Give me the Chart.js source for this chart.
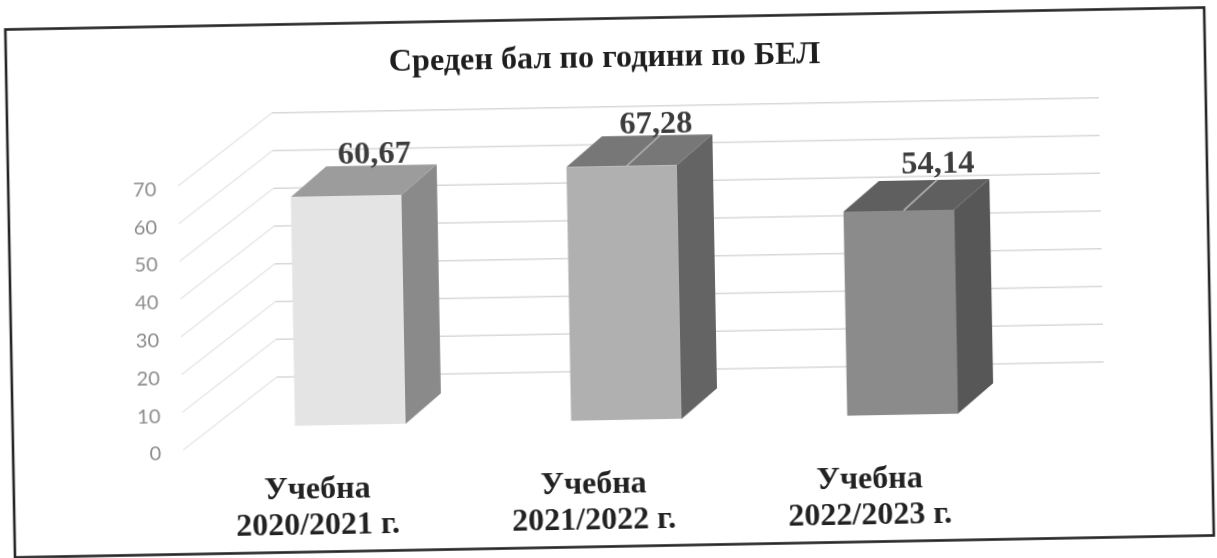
<!DOCTYPE html>
<html lang="bg">
<head>
<meta charset="utf-8">
<title>Среден бал по години по БЕЛ</title>
<script src="https://cdn.jsdelivr.net/npm/chart.js@4"></script>
<style>
html,body{margin:0;padding:0;background:#fff;overflow:hidden;width:1217px;height:558px}
#wrap{width:1217px;height:558px;transform:rotate(-1.05deg);transform-origin:608.5px 279px;filter:blur(0.45px)}
canvas{display:block}
</style>
</head>
<body>
<div id="wrap"><canvas id="c" width="1217" height="558"></canvas></div>
<script>
const titleText = "Среден бал по години по БЕЛ";
const categories = [["Учебна","2020/2021 г."],["Учебна","2021/2022 г."],["Учебна","2022/2023 г."]];
const values = [60.67, 67.28, 54.14];
const valueLabels = ["60,67","67,28","54,14"];
const yTicks = [0,10,20,30,40,50,60,70];
const frontColors = ["#e4e4e4","#b0b0b0","#8b8b8b"];
const sideColors = ["#8a8a8a","#646464","#575757"];
const topColors = ["#9c9c9c","#777777","#5f5f5f"];
const leaderShown = [false,true,true];
const labelShift = [[29,-41],[35,-41],[40,-45]];

const depth = {dx:36, dy:-30};
const wall = {backDy:-49.3, frontDy:22, frontX:180, backX:275, rightX:1102};

const threeD = {
  id:'threeD',
  beforeDraw(chart){
    const c = chart.ctx;
    c.save();
    c.fillStyle='#fff';
    c.fillRect(0,0,chart.width,chart.height);
    c.strokeStyle='#262626';
    c.lineWidth=2.6;
    c.strokeRect(10,18.5,1199,528);
    c.restore();
  },
  beforeDatasetsDraw(chart){
    const c = chart.ctx, y = chart.scales.y;
    c.save();
    c.lineWidth=1.4;
    yTicks.forEach(v=>{
      const p = y.getPixelForValue(v);
      c.strokeStyle='#d8d8d8';
      c.beginPath();
      c.moveTo(wall.backX,p+wall.backDy);
      c.lineTo(wall.rightX,p+wall.backDy);
      c.stroke();
      c.strokeStyle='#e6e6e6';
      c.beginPath();
      c.moveTo(wall.frontX,p+wall.frontDy);
      c.lineTo(wall.backX,p+wall.backDy);
      c.stroke();
    });
    chart.getDatasetMeta(0).data.forEach((b,i)=>{
      const l=b.x-b.width/2, r=b.x+b.width/2, t=b.y, bot=b.base;
      c.fillStyle=sideColors[i];
      c.beginPath();
      c.moveTo(r,t);c.lineTo(r+depth.dx,t+depth.dy);c.lineTo(r+depth.dx,bot+depth.dy);c.lineTo(r,bot);
      c.closePath();c.fill();
      c.fillStyle=topColors[i];
      c.beginPath();
      c.moveTo(l,t);c.lineTo(l+depth.dx,t+depth.dy);c.lineTo(r+depth.dx,t+depth.dy);c.lineTo(r,t);
      c.closePath();c.fill();
    });
    c.restore();
  },
  afterDatasetsDraw(chart){
    const c = chart.ctx;
    c.save();
    c.textAlign='center';
    c.textBaseline='middle';
    c.font='bold 32.5px "Liberation Serif"';
    chart.getDatasetMeta(0).data.forEach((b,i)=>{
      const [sx,sy]=labelShift[i];
      if(leaderShown[i]){
        c.strokeStyle='#b5b5b5';
        c.lineWidth=1.5;
        c.beginPath();
        c.moveTo(b.x+5,b.y);
        c.lineTo(b.x+depth.dx+3,b.y+depth.dy);
        c.stroke();
      }
      c.fillStyle='#3d3d3d';
      c.fillText(valueLabels[i],b.x+sx,b.y+sy);
    });
    c.restore();
  }
};

new Chart(document.getElementById('c'),{
  type:'bar',
  data:{labels:categories,datasets:[{data:values,backgroundColor:frontColors,borderWidth:0,categoryPercentage:1,barPercentage:0.4}]},
  plugins:[threeD],
  options:{
    responsive:false,
    animation:false,
    layout:{padding:0},
    plugins:{
      legend:{display:false},
      tooltip:{enabled:false},
      title:{display:true,text:titleText,color:'#1e1e1e',
        font:{family:'"Liberation Serif"',weight:'bold',size:32.2,lineHeight:1.2},
        padding:{top:39,bottom:78.4}}
    },
    scales:{
      x:{
        offset:true,
        grid:{display:false,drawTicks:false},
        border:{display:false},
        afterFit(s){s.height=137.7;},
        ticks:{color:'#222',font:{family:'"Liberation Serif"',weight:'bold',size:32,lineHeight:1.15},padding:45.6,labelOffset:-34,maxRotation:0,autoSkip:false}
      },
      y:{
        min:0,max:70,
        afterBuildTicks(s){s.ticks=yTicks.map(v=>({value:v}));},
        afterFit(s){s.width=209.5;},
        grid:{display:false,drawTicks:false},
        border:{display:false},
        ticks:{color:'#8c8c8c',font:{family:'Lato',size:20},padding:51.5,labelOffset:25.5}
      },
      rightGap:{
        position:'right',
        afterFit(s){s.width=179;},
        grid:{display:false,drawTicks:false},
        border:{display:false},
        ticks:{display:false}
      }
    }
  }
});
</script>
</body>
</html>
